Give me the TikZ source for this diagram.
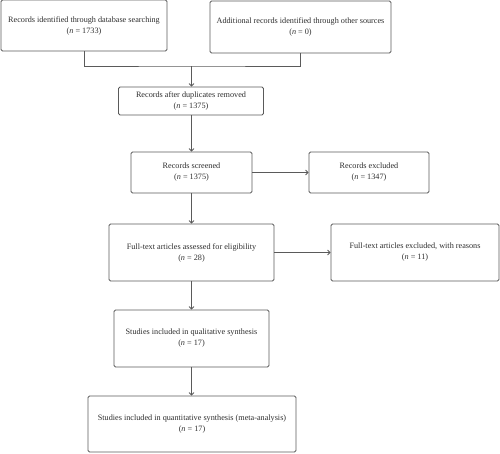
\documentclass[tikz,border=0pt]{standalone}
\usepackage{fontspec}
\setmainfont{Liberation Serif}
\usetikzlibrary{arrows.meta}
\definecolor{linegray}{HTML}{5A5A5A}
\definecolor{textgray}{HTML}{2E2E2E}
\tikzset{
  box/.style={draw=linegray, line width=0.8pt, rounded corners=1.5pt, align=center,
    inner sep=0pt, text=textgray, font=\fontsize{8.2}{11}\selectfont},
  conn/.style={draw=linegray, line width=0.8pt},
  arr/.style={conn, -{Straight Barb[length=2.5pt,width=5pt]}}
}
\begin{document}
\begin{tikzpicture}[x=1pt,y=-1pt]
\useasboundingbox (0,0) rectangle (500,453);
\node[box, minimum width=166pt, minimum height=51pt] (b1) at (84,25.5)
  {Records identified through database searching\\(\textit{n} = 1733)};
\node[box, minimum width=181pt, minimum height=52pt] (b2) at (300.5,27)
  {Additional records identified through other sources\\(\textit{n} = 0)};
\node[box, minimum width=145pt, minimum height=28pt] (b3) at (191,101)
  {Records after duplicates removed\\(\textit{n} = 1375)};
\node[box, minimum width=121pt, minimum height=41pt] (b4) at (191.5,172.5)
  {Records screened\\(\textit{n} = 1375)};
\node[box, minimum width=120pt, minimum height=41pt] (b5) at (369,172.5)
  {Records excluded\\(\textit{n} = 1347)};
\node[box, minimum width=165pt, minimum height=57pt] (b6) at (191.5,252.5)
  {Full-text articles assessed for eligibility\\(\textit{n} = 28)};
\node[box, minimum width=168pt, minimum height=57pt] (b7) at (415,252.5)
  {Full-text articles excluded, with reasons\\(\textit{n} = 11)};
\node[box, minimum width=155pt, minimum height=57pt] (b8) at (191.5,338.5)
  {Studies included in qualitative synthesis\\(\textit{n} = 17)};
\node[box, minimum width=208pt, minimum height=56pt] (b9) at (192,424)
  {Studies included in quantitative synthesis (meta-analysis)\\(\textit{n} = 17)};
\coordinate (j) at (191.5,66);
\draw[conn] (b1.south) |- (j) -| (b2.south);
\draw[arr] (j) -- (b3.north -| j);
\draw[arr] (b3.south -| b4.north) -- (b4.north);
\draw[arr] (b4.east) -- (b5.west);
\draw[arr] (b4.south) -- (b6.north);
\draw[arr] (b6.east) -- (b7.west);
\draw[arr] (b6.south) -- (b8.north);
\draw[arr] (b8.south) -- (b9.north -| b8.south);
\end{tikzpicture}
\end{document}
